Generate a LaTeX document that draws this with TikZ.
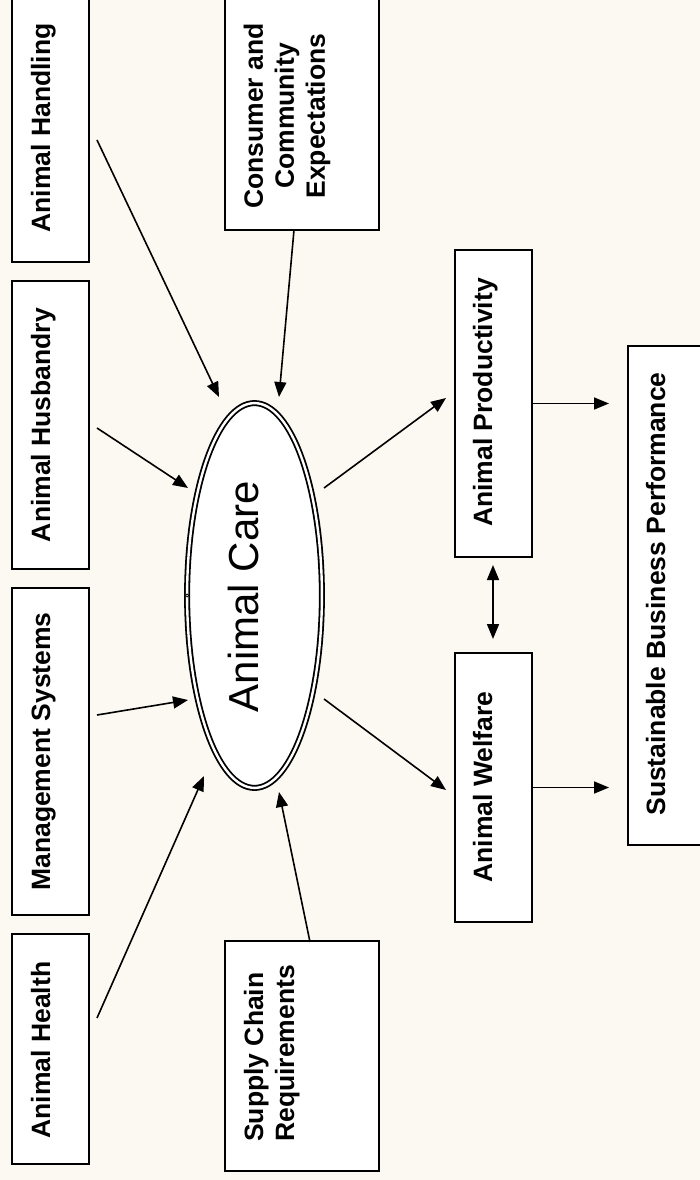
\documentclass[tikz,border=0pt]{standalone}
\usepackage{fontspec}
\setmainfont{Liberation Sans}
\usetikzlibrary{arrows.meta,shapes.geometric}
\definecolor{bgc}{RGB}{252,249,242}
\begin{document}
\begin{tikzpicture}[x=1pt,y=-1pt,
  box/.style={draw, fill=white, line width=2pt, inner sep=0pt, outer sep=0pt, rectangle},
  lbl/.style={rotate=90, inner sep=0pt, font=\fontsize{26.5}{31}\selectfont\bfseries},
  arr/.style={line width=1.6pt, -{Triangle[length=15pt,width=12pt]}},
  darr/.style={line width=1.6pt, {Triangle[length=15pt,width=12pt]}-{Triangle[length=15pt,width=12pt]}},
]
\fill[bgc] (0,0) rectangle (700,1180);
\useasboundingbox (0,0) rectangle (700,1180);

% left column
\node[box, minimum width=77pt, minimum height=282pt] (hand) at (50.5,121) {};
\node[lbl, anchor=base] (handT) at (50,128) {Animal Handling};
\node[box, minimum width=77pt, minimum height=288pt] (husb) at (50.5,425) {};
\node[lbl, anchor=base] (husbT) at (50,425) {Animal Husbandry};
\node[box, minimum width=77pt, minimum height=327pt] (mgmt) at (50.5,751.5) {};
\node[lbl, anchor=base] (mgmtT) at (50,751.5) {Management Systems};
\node[box, minimum width=77pt, minimum height=230pt] (health) at (50.5,1049) {};
\node[lbl, anchor=base] (healthT) at (50,1050) {Animal Health};

% middle column
\node[box, minimum width=154pt, minimum height=250pt] (cons) at (302,105) {};
\node[lbl, align=center, anchor=center] (consT) at (287,116) {Consumer and\\Community\\Expectations};
\node[box, minimum width=154pt, minimum height=230pt] (supp) at (302,1056) {};
\node[lbl, align=left, anchor=west] (suppT) at (271.7,1142) {Supply Chain\\Requirements};

% central ellipse
\node[ellipse, draw, fill=white, line width=1.8pt, double, double distance=2.4pt,
      minimum width=134.8pt, minimum height=384.8pt, inner sep=0pt, outer sep=0pt] (care) at (254.5,595.5) {};
\node[rotate=90, inner sep=0pt, anchor=base, font=\fontsize{42}{50}\selectfont] (careT) at (258,596.5) {Animal Care};
\draw[line width=0.7pt, fill=white] (care.west) circle (1.6pt);

% right columns
\node[box, minimum width=77pt, minimum height=307pt] (prod) at (493.5,403.5) {};
\node[lbl, anchor=base] (prodT) at (492,402.5) {Animal Productivity};
\node[box, minimum width=77pt, minimum height=269pt] (welf) at (493.5,787.5) {};
\node[lbl, anchor=base] (welfT) at (492,787) {Animal Welfare};
\node[box, minimum width=92pt, minimum height=499pt] (sust) at (674,595.5) {};
\node[lbl, anchor=base] (sustT) at (665,594) {Sustainable Business Performance};

% connectors into Animal Care
\draw[arr] ([shift={(8,19)}]hand.east) -- ([shift={(-35.5,-198.5)}]care.center);
\draw[arr] ([shift={(-8,0)}]cons.south) -- ([shift={(24.5,-198.5)}]care.center);
\draw[arr] ([shift={(8,3)}]husb.east) -- ([shift={(-66.5,-107.5)}]care.center);
\draw[arr] ([shift={(8,-36.5)}]mgmt.east) -- ([shift={(-66.5,104.5)}]care.center);
\draw[arr] ([shift={(8,-31)}]health.east) -- ([shift={(-50.5,180.5)}]care.center);
\draw[arr] ([shift={(8,1)}]supp.north) -- ([shift={(24.5,196.5)}]care.center);

% connectors out of Animal Care
\draw[arr] ([shift={(69.5,-107.5)}]care.center) -- ([shift={(-9,-5.5)}]prod.west);
\draw[arr] ([shift={(69.5,103.5)}]care.center) -- ([shift={(-9,2.5)}]welf.west);

% productivity <-> welfare
\draw[darr] ([shift={(-0.5,8)}]prod.south) -- ([shift={(-0.5,-14)}]welf.north);

% to sustainable business performance
\draw[arr] (prod.east) -- ([xshift=-19pt]sust.west |- prod.east);
\draw[arr] (welf.east) -- ([xshift=-19pt]sust.west |- welf.east);
\end{tikzpicture}
\end{document}
